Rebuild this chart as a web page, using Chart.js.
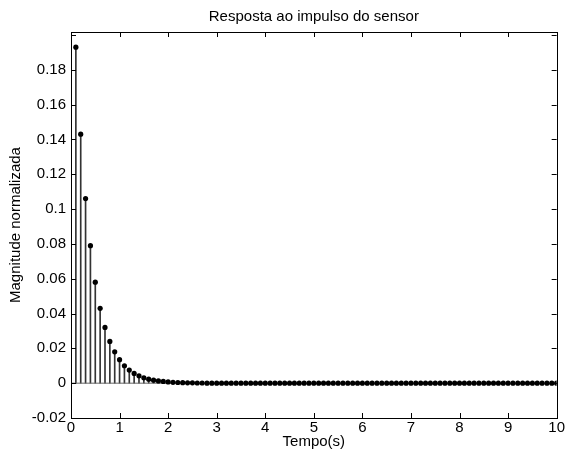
<!DOCTYPE html>
<html>
<head>
<meta charset="utf-8">
<script src="https://cdn.jsdelivr.net/npm/chart.js@4"></script>
<style>
  html, body { margin: 0; padding: 0; background: #fff; }
  #wrap { width: 566px; height: 461px; }
</style>
</head>
<body>
<div id="wrap"><canvas id="impulseChart"></canvas></div>
<script>
// sample times (s)
const tempo = [
  0.1, 0.2, 0.3, 0.4, 0.5, 0.6, 0.7, 0.8, 0.9, 1.0,
  1.1, 1.2, 1.3, 1.4, 1.5, 1.6, 1.7, 1.8, 1.9, 2.0,
  2.1, 2.2, 2.3, 2.4, 2.5, 2.6, 2.7, 2.8, 2.9, 3.0,
  3.1, 3.2, 3.3, 3.4, 3.5, 3.6, 3.7, 3.8, 3.9, 4.0,
  4.1, 4.2, 4.3, 4.4, 4.5, 4.6, 4.7, 4.8, 4.9, 5.0,
  5.1, 5.2, 5.3, 5.4, 5.5, 5.6, 5.7, 5.8, 5.9, 6.0,
  6.1, 6.2, 6.3, 6.4, 6.5, 6.6, 6.7, 6.8, 6.9, 7.0,
  7.1, 7.2, 7.3, 7.4, 7.5, 7.6, 7.7, 7.8, 7.9, 8.0,
  8.1, 8.2, 8.3, 8.4, 8.5, 8.6, 8.7, 8.8, 8.9, 9.0,
  9.1, 9.2, 9.3, 9.4, 9.5, 9.6, 9.7, 9.8, 9.9, 10.0
];

// normalized magnitude
const magnitude = [
  0.193, 0.143, 0.106, 0.079, 0.058, 0.043, 0.032, 0.024, 0.018, 0.0135,
  0.0100, 0.0075, 0.0056, 0.0042, 0.0031, 0.0023, 0.0017, 0.0013, 0.0010, 0.0007,
  0.0005, 0.0004, 0.0003, 0.0002, 0.0002, 0.0001, 0.0001, 0, 0, 0,
  0, 0, 0, 0, 0, 0, 0, 0, 0, 0,
  0, 0, 0, 0, 0, 0, 0, 0, 0, 0,
  0, 0, 0, 0, 0, 0, 0, 0, 0, 0,
  0, 0, 0, 0, 0, 0, 0, 0, 0, 0,
  0, 0, 0, 0, 0, 0, 0, 0, 0, 0,
  0, 0, 0, 0, 0, 0, 0, 0, 0, 0,
  0, 0, 0, 0, 0, 0, 0, 0, 0, 0
];

const xTicks = [0, 1, 2, 3, 4, 5, 6, 7, 8, 9, 10];
const xTickLabels = ['0', '1', '2', '3', '4', '5', '6', '7', '8', '9', '10'];
const yTicks = [-0.02, 0, 0.02, 0.04, 0.06, 0.08, 0.1, 0.12, 0.14, 0.16, 0.18, 0.2];
const yTickLabels = ['-0.02', '0', '0.02', '0.04', '0.06', '0.08', '0.1', '0.12', '0.14', '0.16', '0.18', ''];

const stems = tempo.map((t, i) => ({ x: t, y: magnitude[i] }));

Chart.defaults.font.family = '"Liberation Sans", Arial, sans-serif';
Chart.defaults.font.size = 15;
Chart.defaults.color = '#000';

// MATLAB-style box with ticks pointing inward
const boxPlugin = {
  id: 'boxPlugin',
  afterDraw(chart) {
    const { ctx, chartArea: a, scales: { x, y } } = chart;
    const len = 5;
    ctx.save();
    ctx.strokeStyle = '#000';
    ctx.lineWidth = 1;
    ctx.beginPath();
    xTicks.forEach(v => {
      const px = Math.round(x.getPixelForValue(v)) + 0.5;
      ctx.moveTo(px, a.bottom); ctx.lineTo(px, a.bottom - len);
      ctx.moveTo(px, a.top); ctx.lineTo(px, a.top + len);
    });
    yTicks.forEach(v => {
      const py = Math.round(y.getPixelForValue(v)) + 0.5;
      ctx.moveTo(a.left, py); ctx.lineTo(a.left + len, py);
      ctx.moveTo(a.right, py); ctx.lineTo(a.right - len, py);
    });
    ctx.stroke();
    ctx.strokeRect(Math.round(a.left) + 0.5, Math.round(a.top) + 0.5,
      Math.round(a.right - a.left), Math.round(a.bottom - a.top));
    ctx.restore();
  }
};

new Chart(document.getElementById('impulseChart').getContext('2d'), {
  type: 'bar',
  data: {
    datasets: [
      {
        type: 'scatter',
        data: stems,
        pointRadius: 2.6,
        pointBackgroundColor: '#000',
        pointBorderWidth: 0,
        order: 1
      },
      {
        type: 'line',
        data: [{ x: 0, y: 0 }, { x: 10, y: 0 }],
        borderColor: '#666',
        borderWidth: 1,
        pointRadius: 0,
        order: 2
      },
      {
        type: 'bar',
        data: stems,
        barThickness: 1,
        backgroundColor: '#333',
        borderWidth: 0,
        order: 3
      }
    ]
  },
  options: {
    responsive: true,
    maintainAspectRatio: false,
    animation: false,
    layout: { padding: { left: 0, right: 7, top: 0, bottom: 0 } },
    scales: {
      x: {
        type: 'linear',
        min: 0,
        max: 10,
        offset: false,
        grid: { display: false, drawTicks: false },
        border: { display: false },
        afterBuildTicks: s => { s.ticks = xTicks.map(v => ({ value: v })); },
        afterFit: s => { s.height = 43; },
        ticks: {
          padding: 1,
          maxRotation: 0,
          callback: (v, i) => xTickLabels[i]
        },
        title: {
          display: true,
          text: 'Tempo(s)',
          padding: { top: 0, bottom: 10 }
        }
      },
      // top axis only carries the chart title, centred over the plot box
      top: {
        type: 'linear',
        position: 'top',
        min: 0,
        max: 10,
        grid: { display: false, drawTicks: false },
        border: { display: false },
        ticks: { display: false },
        afterFit: s => { s.height = 32; },
        title: {
          display: true,
          text: 'Resposta ao impulso do sensor',
          padding: { top: 8, bottom: 0 }
        }
      },
      y: {
        min: -0.02,
        max: 0.2017,
        grid: { display: false, drawTicks: false },
        border: { display: false },
        afterBuildTicks: s => { s.ticks = yTicks.map(v => ({ value: v })); },
        afterFit: s => { s.width = 71; },
        ticks: {
          padding: 5,
          callback: (v, i) => yTickLabels[i]
        },
        title: {
          display: true,
          text: 'Magnitude normalizada',
          padding: { top: 7, bottom: 0 }
        }
      }
    },
    plugins: {
      legend: { display: false },
      tooltip: { enabled: false },
      title: { display: false }
    }
  },
  plugins: [boxPlugin]
});
</script>
</body>
</html>
